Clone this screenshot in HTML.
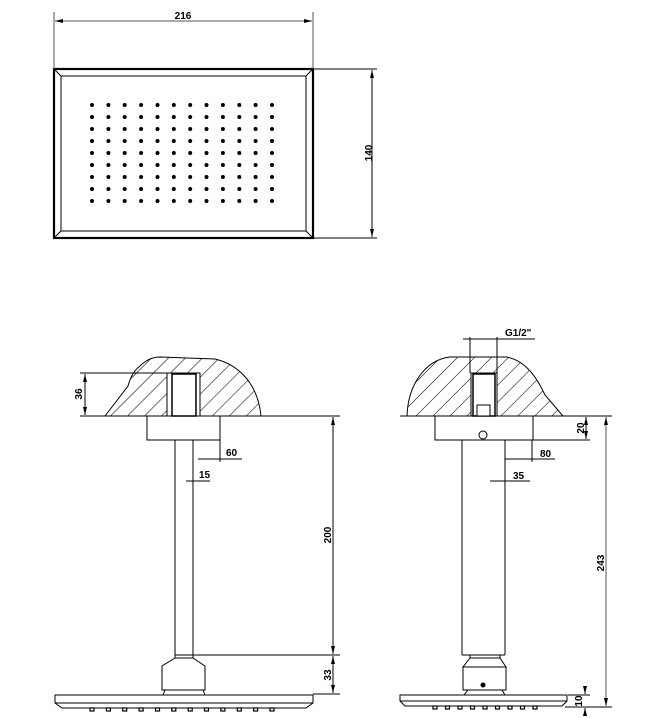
<!DOCTYPE html>
<html><head><style>html,body{margin:0;padding:0;background:#fff}svg{display:block}</style></head>
<body>
<svg width="659" height="718" viewBox="0 0 659 718" xmlns="http://www.w3.org/2000/svg" font-family="Liberation Sans, sans-serif" font-weight="bold" font-size="10">
<defs>
<pattern id="h" width="12" height="12" patternUnits="userSpaceOnUse" patternTransform="rotate(45)">
<line x1="0" y1="0" x2="0" y2="12" stroke="#000" stroke-width="1.1"/>
</pattern>
<marker id="a" markerWidth="8" markerHeight="6" refX="8" refY="3" orient="auto-start-reverse" markerUnits="userSpaceOnUse"><path d="M0,1 L8,3 L0,5z" fill="#000"/></marker>
</defs>
<g fill="none" stroke="#000" stroke-width="1">
<rect x="54" y="69" width="259" height="169" stroke-width="2.2"/>
<rect x="61" y="76" width="245" height="155"/>
<line x1="54" y1="69" x2="61" y2="76"/><line x1="313" y1="69" x2="306" y2="76"/>
<line x1="54" y1="238" x2="61" y2="231"/><line x1="313" y1="238" x2="306" y2="231"/>
<line x1="54" y1="12" x2="54" y2="69" stroke="#555"/><line x1="313" y1="12" x2="313" y2="69" stroke="#555"/>
<line x1="55" y1="21" x2="312" y2="21" stroke="#555" marker-start="url(#a)" marker-end="url(#a)"/>
<line x1="313" y1="69" x2="377" y2="69"/><line x1="313" y1="238" x2="377" y2="238"/>
<line x1="372" y1="70" x2="372" y2="237" marker-start="url(#a)" marker-end="url(#a)"/>
</g>
<text x="183" y="19" text-anchor="middle">216</text>
<text transform="translate(372,153) rotate(-90)" text-anchor="middle">140</text>
<g fill="none" stroke="#000" stroke-width="1">
<path d="M105,416 L128,386 C131,375 135,370 140,366 C146,360 152,357 160,357 L215,359 C240,365 258,385 261,416 Z" fill="url(#h)"/>
<rect x="167" y="373" width="33" height="43" fill="#fff"/>
<rect x="172" y="374" width="24" height="42" stroke-width="1.5"/>
<line x1="80" y1="416" x2="340" y2="416"/>
<line x1="80" y1="373" x2="167" y2="373"/>
<line x1="85" y1="374" x2="85" y2="415" marker-start="url(#a)" marker-end="url(#a)"/>
<rect x="147" y="416" width="73" height="24"/>
<line x1="175" y1="440" x2="175" y2="655"/><line x1="193" y1="440" x2="193" y2="655"/>
<line x1="220" y1="440" x2="220" y2="462"/>
<line x1="198" y1="459" x2="242" y2="459"/>
<line x1="186" y1="481" x2="210" y2="481"/>
<line x1="193" y1="655" x2="340" y2="655"/>
<line x1="333" y1="417" x2="333" y2="654" marker-start="url(#a)" marker-end="url(#a)"/>
<line x1="333" y1="656" x2="333" y2="693" marker-start="url(#a)" marker-end="url(#a)"/>
<line x1="313" y1="694" x2="340" y2="694"/>
<path d="M175,655 L193,655 L193,658 L205,666 L205,690 L162,690 L162,666 L175,658 Z"/>
<line x1="175" y1="658" x2="193" y2="658"/>
<path d="M165,690 L203,690 L205,695 L163,695 Z"/>
<path d="M55,695 L313,695 L313,703 L306,708 L62,708 L55,703 Z"/>
<line x1="55" y1="703" x2="313" y2="703"/>
<path d="M407,416 C408,385 425,360 450,357 L507,357 C530,362 540,385 545,395 L563,416 Z" fill="url(#h)"/>
<rect x="471" y="373" width="26" height="43" fill="#fff"/>
<rect x="473" y="374" width="22" height="42" stroke-width="1.5"/>
<rect x="477" y="405" width="13" height="11" fill="#fff"/>
<line x1="470" y1="337" x2="470" y2="373"/><line x1="497" y1="337" x2="497" y2="373"/>
<line x1="463" y1="339" x2="535" y2="339"/>
<line x1="400" y1="416" x2="612" y2="416"/>
<rect x="435" y="416" width="98" height="24"/>
<circle cx="483" cy="435" r="4"/>
<line x1="462" y1="440" x2="462" y2="655"/><line x1="505" y1="440" x2="505" y2="655"/><line x1="462" y1="655" x2="505" y2="655"/>
<line x1="532" y1="440" x2="532" y2="462"/>
<line x1="505" y1="459" x2="555" y2="459"/>
<line x1="490" y1="481" x2="530" y2="481"/>
<line x1="533" y1="440" x2="590" y2="440"/>
<line x1="586" y1="417" x2="586" y2="439" marker-start="url(#a)" marker-end="url(#a)"/>
<line x1="606" y1="417" x2="606" y2="706" marker-start="url(#a)" marker-end="url(#a)" stroke="#555"/>
<line x1="565" y1="707" x2="612" y2="707"/>
<line x1="568" y1="695" x2="590" y2="695"/>
<line x1="585" y1="688" x2="585" y2="694" marker-end="url(#a)"/>
<line x1="585" y1="716" x2="585" y2="708" marker-end="url(#a)"/>
<path d="M470,655 L500,655 L500,658 L506,667 L463,667 L470,658 Z"/>
<line x1="470" y1="658" x2="500" y2="658"/>
<rect x="463" y="667" width="43" height="23"/>
<path d="M468,690 L502,690 L505,695 L464,695 Z"/>
<path d="M400,695 L567,695 L567,701 L562,706 L405,706 L400,701 Z"/>
<line x1="400" y1="701" x2="567" y2="701"/>
</g>
<circle cx="483" cy="685" r="2.5" fill="#000"/>
<text transform="translate(82,394) rotate(-90)" text-anchor="middle">36</text>
<text x="226" y="456">60</text>
<text x="199" y="478">15</text>
<text transform="translate(331,535) rotate(-90)" text-anchor="middle">200</text>
<text transform="translate(331,675) rotate(-90)" text-anchor="middle">33</text>
<text x="505" y="336">G1/2"</text>
<text x="540" y="457">80</text>
<text x="513" y="479">35</text>
<text transform="translate(584,428) rotate(-90)" text-anchor="middle">20</text>
<text transform="translate(604,563) rotate(-90)" text-anchor="middle">243</text>
<text transform="translate(582,701) rotate(-90)" text-anchor="middle">10</text>
<g fill="#000">
<g id="r1"><circle cx="92" cy="105" r="2"/><circle cx="108.4" cy="105" r="2"/><circle cx="124.7" cy="105" r="2"/><circle cx="141.1" cy="105" r="2"/><circle cx="157.5" cy="105" r="2"/><circle cx="173.8" cy="105" r="2"/><circle cx="190.2" cy="105" r="2"/><circle cx="206.5" cy="105" r="2"/><circle cx="222.9" cy="105" r="2"/><circle cx="239.3" cy="105" r="2"/><circle cx="255.6" cy="105" r="2"/><circle cx="272" cy="105" r="2"/></g>
<use href="#r1" y="12"/><use href="#r1" y="24"/><use href="#r1" y="36"/><use href="#r1" y="48"/><use href="#r1" y="60"/><use href="#r1" y="72"/><use href="#r1" y="84"/><use href="#r1" y="96"/>
</g>
<g fill="none" stroke="#000" stroke-width="1.2">
<rect x="90" y="708" width="4" height="3"/><rect x="106.4" y="708" width="4" height="3"/><rect x="122.7" y="708" width="4" height="3"/><rect x="139.1" y="708" width="4" height="3"/><rect x="155.5" y="708" width="4" height="3"/><rect x="171.8" y="708" width="4" height="3"/><rect x="188.2" y="708" width="4" height="3"/><rect x="204.5" y="708" width="4" height="3"/><rect x="220.9" y="708" width="4" height="3"/><rect x="237.3" y="708" width="4" height="3"/><rect x="253.6" y="708" width="4" height="3"/><rect x="270" y="708" width="4" height="3"/>
<rect x="433" y="706" width="4" height="3"/><rect x="445.5" y="706" width="4" height="3"/><rect x="458" y="706" width="4" height="3"/><rect x="470.5" y="706" width="4" height="3"/><rect x="483" y="706" width="4" height="3"/><rect x="495.5" y="706" width="4" height="3"/><rect x="508" y="706" width="4" height="3"/><rect x="520.5" y="706" width="4" height="3"/><rect x="533" y="706" width="4" height="3"/>
</g>
</svg>
</body></html>
